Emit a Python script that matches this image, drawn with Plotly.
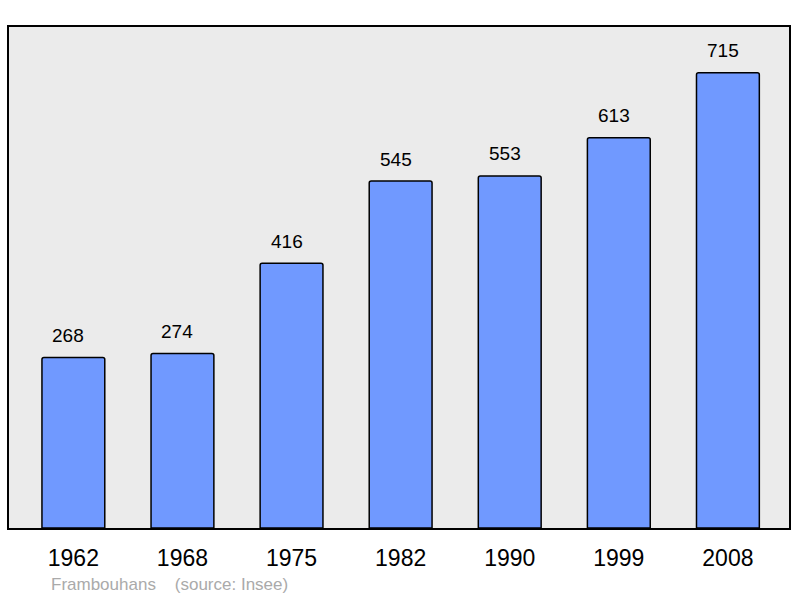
import plotly.graph_objects as go

years = ["1962", "1968", "1975", "1982", "1990", "1999", "2008"]
population = [268, 274, 416, 545, 553, 613, 715]
footer_text = "Frambouhans\u00a0\u00a0\u00a0\u00a0(source: Insee)"

fig = go.Figure()
fig.add_trace(go.Bar(
    x=years, y=population, width=0.576,
    marker=dict(color="#7099ff", line=dict(color="#000000", width=1.5), cornerradius=2),
    hoverinfo="skip",
))

for i, v in enumerate(population):
    fig.add_annotation(x=i, y=v, text=str(v), showarrow=False, yanchor="middle",
                       yshift=22, xshift=-5,
                       font=dict(family="Liberation Sans, Arial", size=19, color="#000000"))

fig.add_annotation(xref="paper", yref="paper", x=0.051, y=-0.112, xanchor="left", yanchor="middle",
                   text=footer_text, showarrow=False,
                   font=dict(family="Liberation Sans, Arial", size=17, color="#aaaaaa"))

fig.update_layout(
    width=800, height=598,
    margin=dict(l=9, r=9, t=27, b=70),
    paper_bgcolor="#ffffff",
    plot_bgcolor="#ebebeb",
    showlegend=False,
    xaxis=dict(type="category", range=[-0.59, 6.56], showline=True, mirror=True, linecolor="#000000",
               linewidth=2, ticks="", showgrid=False, ticklabelstandoff=8,
               tickfont=dict(family="Liberation Sans, Arial", size=23, color="#000000")),
    yaxis=dict(range=[0, 787], showline=True, mirror=True, linecolor="#000000", linewidth=2,
               showticklabels=False, ticks="", showgrid=False, zeroline=False),
)

fig.write_html("out.html", config={"displayModeBar": False},
               post_script="document.body.style.margin='0';document.body.style.padding='0';")
